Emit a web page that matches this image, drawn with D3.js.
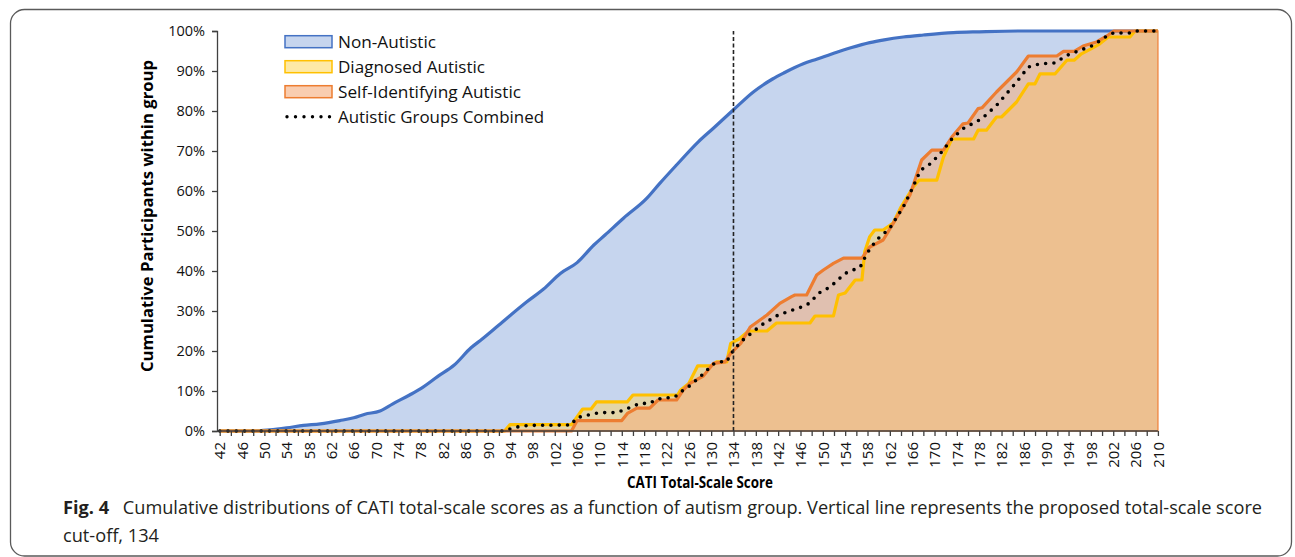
<!DOCTYPE html>
<html>
<head>
<meta charset="utf-8">
<script src="https://cdn.jsdelivr.net/npm/d3@7"></script>
<style>
  body { margin: 0; background: #fff; }
  text { font-family: "Open Sans", "Noto Sans", sans-serif; }
</style>
</head>
<body>
<svg width="1295" height="557"></svg>
<script>
// cumulative % of each group at a given CATI score
var nonAutistic = [[42,0],[48,0],[51,0.3],[54,0.8],[57,1.4],[60,1.8],[63.5,2.6],[66,3.3],[68,4.2],[70.7,5.0],
  [73,6.8],[76,9],[78,10.6],[81,13.6],[84,16.5],[87,20.8],[89,23],[92,26.5],[97,32.3],[100,35.5],
  [103,39.4],[106,42.1],[109,46.5],[111,49],[114.3,53.2],[118.5,58.2],[120.8,61.9],[123.8,66.5],
  [127.7,72.3],[130.4,75.7],[134,80.3],[137.5,84.7],[141,88],[143,89.5],[146.5,91.8],[149,93],
  [152.5,94.7],[155,95.8],[158.4,97.1],[161,97.8],[164.4,98.5],[168,99],[173.4,99.6],[178,99.8],
  [185,100],[210,100]];

var diagnosed = [[42,0],[93,0],[94,1.6],[105,1.6],[107,5.5],[108.5,5.5],[109.5,7.3],[115,7.3],[116,9],
  [124,9],[124.5,10.2],[126,11.9],[127.6,16.3],[130,16.3],[131,17.3],[132.8,17.3],[133.5,21.9],
  [135,23],[136.7,25],[140,25],[141.7,27],[147.7,27],[148.6,28.75],[151.9,28.75],[152.8,34],
  [154,34.5],[155.8,37.75],[157,37.75],[157.5,44.8],[158.4,48.6],[159.3,50.25],[160.8,50.25],
  [162.6,52],[164,56],[166.2,61],[167.2,62.7],[170.4,62.7],[171.6,68.5],[173.1,73],[177,73],
  [177.8,75.2],[179.3,75.2],[181.1,78.5],[182,78.5],[184.7,82.25],[186.8,86.8],[188,86.8],
  [188.9,89.3],[191.6,89.3],[193.7,92.7],[195,92.7],[196.3,94.3],[198.1,95.6],[199.6,96.8],
  [201.1,98.5],[205,98.5],[205.9,100],[210,100]];

var selfIdentifying = [[42,0],[105,0],[106,2.6],[114,2.6],[115,4.4],[116.7,5.7],[119,5.7],[120.5,7.75],
  [123.8,7.75],[125,10.25],[126.2,11.9],[128.6,13.75],[130.4,16.9],[132.5,17.3],[133.5,19.4],
  [135.3,21.9],[137,26],[140,29],[142.3,31.9],[144.4,33.6],[145,34],[147.1,34],[148.9,39],
  [150.1,40.25],[151.9,41.9],[153.7,43.2],[157,43.2],[158.4,46],[160.8,47.75],[162.6,51.9],
  [165.6,59],[167.7,67.75],[169.2,69.8],[169.5,70.2],[171.6,70.2],[173.1,73.5],[175.1,76.8],
  [176,77],[177.8,80.6],[178.5,80.8],[181.1,84.75],[184.7,89.75],[186.8,93.75],[191.9,93.75],
  [193.1,94.9],[195,94.9],[196.6,96.25],[199,97.25],[200.8,98.7],[202.1,100],[210,100]];

var combined = [[42,0],[93,0],[94.8,0.9],[97.2,1.4],[105,1.5],[105.8,3.2],[107,3.7],[110,4.6],[113,4.6],
  [114.3,5.2],[115.8,6.1],[117.3,6.9],[119,6.9],[120,7.75],[121.4,8.3],[123,8.3],[124.1,9],
  [125,10.25],[126.4,11.5],[127.7,13.2],[128.9,14.6],[130.1,16.5],[131.3,17.3],[132.8,17.3],
  [133.5,19.2],[134.3,20.6],[135.3,22.3],[139,26.5],[142,29],[146.2,31],[147.7,32],[149.2,34.4],
  [151.3,36],[154,39.4],[156.7,41],[157.9,44.4],[159.6,47.75],[162,50.7],[164.4,56],[165.9,60.25],
  [167.5,65.2],[169,66.5],[171,69.3],[173.1,73],[175.1,75.6],[178.4,78],[181.1,81.4],[184.7,87.25],
  [186.8,91],[188.9,91.8],[191.5,92],[193.7,93.9],[196.1,95.2],[198.4,96.4],[200.8,98.7],
  [202,99.5],[205,99.5],[205.9,100],[210,100]];

var cutOff = 134;
var xTicks = d3.range(42, 211, 2);
var yTicks = d3.range(0, 101, 10);
var legendLabels = ["Non-Autistic", "Diagnosed Autistic", "Self-Identifying Autistic", "Autistic Groups Combined"];

var svg = d3.select("svg");

// border of the figure box
svg.append("rect")
  .attr("x", 10.5).attr("y", 9.5)
  .attr("width", 1281).attr("height", 546.5)
  .attr("rx", 14)
  .attr("fill", "none")
  .attr("stroke", "#5a5a5a")
  .attr("stroke-width", 1.3);

// scales
var x = d3.scaleLinear().domain([42, 210]).range([219.7, 1157.9]);
var y = d3.scaleLinear().domain([0, 100]).range([431, 31]);

var area = d3.area()
  .x(function(d) { return x(d[0]); })
  .y0(y(0))
  .y1(function(d) { return y(d[1]); });

var line = d3.line()
  .x(function(d) { return x(d[0]); })
  .y(function(d) { return y(d[1]); });

var g = svg.append("g");

// filled areas
g.append("path").datum(nonAutistic)
  .attr("d", area.curve(d3.curveMonotoneX))
  .attr("fill", "#c6d5ee");
area.curve(d3.curveLinear);
g.append("path").datum(diagnosed)
  .attr("d", area)
  .attr("fill", "rgba(255,214,95,0.5)");
g.append("path").datum(selfIdentifying)
  .attr("d", area)
  .attr("fill", "rgba(246,174,126,0.55)")
  .attr("stroke", "#f0904f")
  .attr("stroke-width", 1.5);

// outlines
g.append("path").datum(nonAutistic)
  .attr("d", line.curve(d3.curveMonotoneX))
  .attr("fill", "none")
  .attr("stroke", "#4472c4")
  .attr("stroke-width", 3.2);
line.curve(d3.curveLinear);
g.append("path").datum(diagnosed)
  .attr("d", line)
  .attr("fill", "none")
  .attr("stroke", "#ffc000")
  .attr("stroke-width", 3.2)
  .attr("stroke-linejoin", "round");
g.append("path").datum(selfIdentifying)
  .attr("d", line)
  .attr("fill", "none")
  .attr("stroke", "#ed7d31")
  .attr("stroke-width", 3.2)
  .attr("stroke-linejoin", "round");
g.append("path").datum(combined)
  .attr("d", line)
  .attr("fill", "none")
  .attr("stroke", "#000")
  .attr("stroke-width", 3.6)
  .attr("stroke-linecap", "round")
  .attr("stroke-dasharray", "0,8.3");

// cut-off line
g.append("line")
  .attr("x1", x(cutOff)).attr("x2", x(cutOff))
  .attr("y1", y(0)).attr("y2", y(100))
  .attr("stroke", "#222")
  .attr("stroke-width", 1.6)
  .attr("stroke-dasharray", "4,2.5");

// y axis
var yAxis = svg.append("g")
  .attr("transform", "translate(217,0)")
  .call(d3.axisLeft(y).tickValues(yTicks).tickSize(5).tickPadding(7)
    .tickFormat(function(d) { return d + "%"; }));
yAxis.selectAll("text").style("font-size", "14.5px").attr("fill", "#111");

// x axis
var xAxis = svg.append("g")
  .attr("transform", "translate(0,431)")
  .call(d3.axisBottom(x).tickValues(xTicks).tickSize(5)
    .tickFormat(function(d) { return (d - 42) % 4 === 0 ? d : ""; }));
xAxis.select(".domain").remove();
xAxis.append("line")
  .attr("x1", 217).attr("x2", x(210))
  .attr("stroke", "#404040").attr("stroke-width", 1.3);
xAxis.selectAll("text")
  .style("font-size", "15px")
  .attr("fill", "#111")
  .attr("text-anchor", "end")
  .attr("transform", "rotate(-90)")
  .attr("x", -11)
  .attr("y", 0)
  .attr("dy", "0.35em");
svg.selectAll(".domain, .tick line").attr("stroke", "#404040").attr("stroke-width", 1.3);

// axis titles
svg.append("text")
  .attr("transform", "translate(153,216) rotate(-90)")
  .attr("text-anchor", "middle")
  .attr("textLength", 312).attr("lengthAdjust", "spacingAndGlyphs")
  .style("font-size", "15.5px").style("font-weight", "bold")
  .text("Cumulative Participants within group");

svg.append("text")
  .attr("x", 700).attr("y", 488)
  .attr("text-anchor", "middle")
  .attr("textLength", 146).attr("lengthAdjust", "spacingAndGlyphs")
  .style("font-size", "15.5px").style("font-weight", "bold")
  .text("CATI Total-Scale Score");

// legend
var legendFill = ["#c6d5ee", "#fde9a6", "#f9cdb0"];
var legendStroke = ["#4472c4", "#ffc000", "#ed7d31"];
var legendEnd = [436, 485, 521, 544];
var legend = svg.append("g");
legendLabels.forEach(function(label, i) {
  var cy = 41.7 + i * 25;
  if (i < 3) {
    legend.append("rect")
      .attr("x", 285).attr("y", cy - 6)
      .attr("width", 47).attr("height", 12)
      .attr("fill", legendFill[i])
      .attr("stroke", legendStroke[i])
      .attr("stroke-width", 1.5);
  } else {
    legend.append("line")
      .attr("x1", 287).attr("x2", 330)
      .attr("y1", cy).attr("y2", cy)
      .attr("stroke", "#000").attr("stroke-width", 3.4)
      .attr("stroke-linecap", "round")
      .attr("stroke-dasharray", "0,8.5");
  }
  legend.append("text")
    .attr("x", 338).attr("y", cy).attr("dy", "0.36em")
    .attr("textLength", legendEnd[i] - 338).attr("lengthAdjust", "spacingAndGlyphs")
    .style("font-size", "16.5px").attr("fill", "#111")
    .text(label);
});

// caption
var cap = svg.append("text")
  .attr("x", 63).attr("y", 514)
  .attr("textLength", 1199).attr("lengthAdjust", "spacingAndGlyphs")
  .style("font-size", "17.5px").attr("fill", "#231f20");
cap.append("tspan").style("font-weight", "bold").text("Fig. 4");
cap.append("tspan").text("\u2002 Cumulative distributions of CATI total-scale scores as a function of autism group. Vertical line represents the proposed total-scale score");
svg.append("text")
  .attr("x", 63).attr("y", 542)
  .attr("textLength", 96).attr("lengthAdjust", "spacingAndGlyphs")
  .style("font-size", "17.5px").attr("fill", "#231f20")
  .text("cut-off, 134");
</script>
</body>
</html>
